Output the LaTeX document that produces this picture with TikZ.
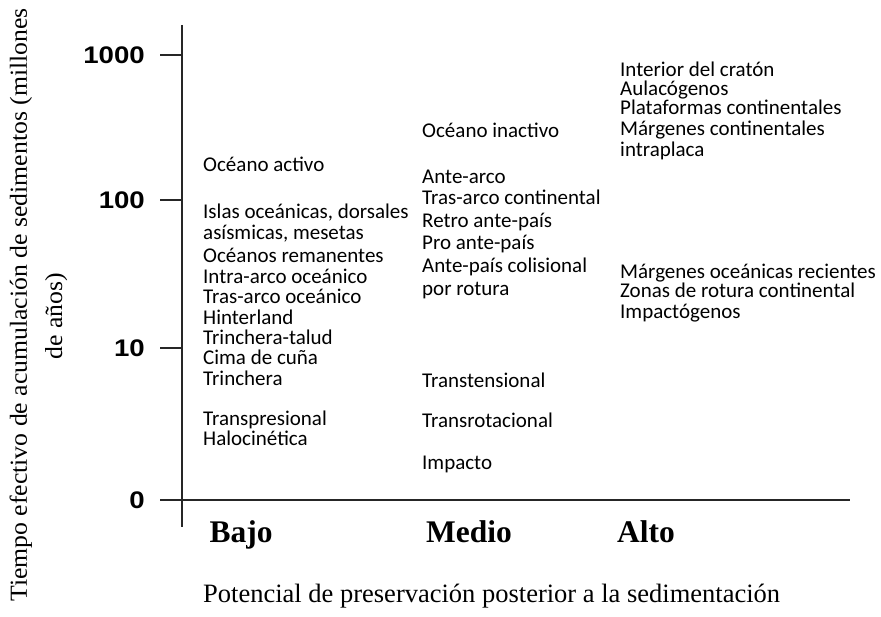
\documentclass[tikz,border=0pt]{standalone}
\usepackage{fontspec}
\setmainfont{Liberation Serif}
\newfontfamily\calfont{Carlito}
\newfontfamily\tickfont{Liberation Sans}
\newcommand{\tickw}[1]{\scalebox{1.15}[1]{#1}}
\newcommand{\ylabw}[1]{\scalebox{1.05}[1]{#1}}
\begin{document}
\begin{tikzpicture}[x=1pt,y=-1pt,
  item/.style={anchor=base west, inner sep=0pt, font=\calfont\fontsize{21}{20}\selectfont},
  ticklab/.style={anchor=east, inner sep=0pt, font=\tickfont\bfseries\fontsize{24}{24}\selectfont},
  level/.style={anchor=base, inner sep=0pt, font=\bfseries\fontsize{31.5}{31.5}\selectfont},
  ylabel/.style={rotate=90, anchor=base, inner sep=0pt, font=\fontsize{24.5}{30}\selectfont},
  axisline/.style={line width=2.5pt, draw=black!85}]
\useasboundingbox (0,0) rectangle (881,617);
% axes
\coordinate (ytop) at (182,25);
\coordinate (ybot) at (182,527);
\coordinate (xleft) at (160,500);
\coordinate (xright) at (850,500);
\draw[axisline] (ytop) -- (ybot);
\draw[axisline] (xleft) -- (xright);
% ticks
\coordinate (ta1) at (160,55);  \coordinate (tb1) at (182,55);
\coordinate (ta2) at (160,200); \coordinate (tb2) at (182,200);
\coordinate (ta3) at (160,348); \coordinate (tb3) at (182,348);
\draw[axisline] (ta1) -- (tb1);
\draw[axisline] (ta2) -- (tb2);
\draw[axisline] (ta3) -- (tb3);
\node[ticklab] (l1000) at (145,55) {\tickw{1000}};
\node[ticklab] (l100) at (145,200) {\tickw{100}};
\node[ticklab] (l10) at (145,348) {\tickw{10}};
\node[ticklab] (l0) at (145,500) {\tickw{0}};
% y label
\node[ylabel] (ylab1) at (27,305) {\ylabw{Tiempo efectivo de acumulación de sedimentos (millones}};
\node[ylabel] (ylab2) at (62,316) {\ylabw{de años)}};
% left column
\node[item] (a1) at (203,172) {Océano activo};
\node[item] (a2) at (203,219) {Islas oceánicas, dorsales};
\node[item] (a3) at (203,240) {asísmicas, mesetas};
\node[item] (a4) at (203,263) {Océanos remanentes};
\node[item] (a5) at (203,284) {Intra-arco oceánico};
\node[item] (a6) at (203,304) {Tras-arco oceánico};
\node[item] (a7) at (203,325) {Hinterland};
\node[item] (a8) at (203,345) {Trinchera-talud};
\node[item] (a9) at (203,365) {Cima de cuña};
\node[item] (a10) at (203,386) {Trinchera};
\node[item] (a11) at (203,425) {Transpresional};
\node[item] (a12) at (203,446) {Halocinética};
% middle column
\node[item] (b1) at (422,138) {Océano inactivo};
\node[item] (b2) at (422,184) {Ante-arco};
\node[item] (b3) at (422,205) {Tras-arco continental};
\node[item] (b4) at (422,228) {Retro ante-país};
\node[item] (b5) at (422,250) {Pro ante-país};
\node[item] (b6) at (422,273) {Ante-país colisional};
\node[item] (b7) at (422,296) {por rotura};
\node[item] (b8) at (422,388) {Transtensional};
\node[item] (b9) at (422,428) {Transrotacional};
\node[item] (b10) at (422,469) {Impacto};
% right column
\node[item] (c1) at (620,77) {Interior del cratón};
\node[item] (c2) at (620,96) {Aulacógenos};
\node[item] (c3) at (620,115) {Plataformas continentales};
\node[item] (c4) at (620,136) {Márgenes continentales};
\node[item] (c5) at (620,157) {intraplaca};
\node[item] (c6) at (620,279) {Márgenes oceánicas recientes};
\node[item] (c7) at (620,298) {Zonas de rotura continental};
\node[item] (c8) at (620,319) {Impactógenos};
% categories
\node[level] (bajo) at (241,542) {Bajo};
\node[level] (medio) at (469,542) {Medio};
\node[level] (alto) at (646,542) {Alto};
% x label
\node[anchor=base west, inner sep=0pt, font=\fontsize{26.5}{30}\selectfont] (xlab) at (203,602)
  {Potencial de preservación posterior a la sedimentación};
\end{tikzpicture}
\end{document}
